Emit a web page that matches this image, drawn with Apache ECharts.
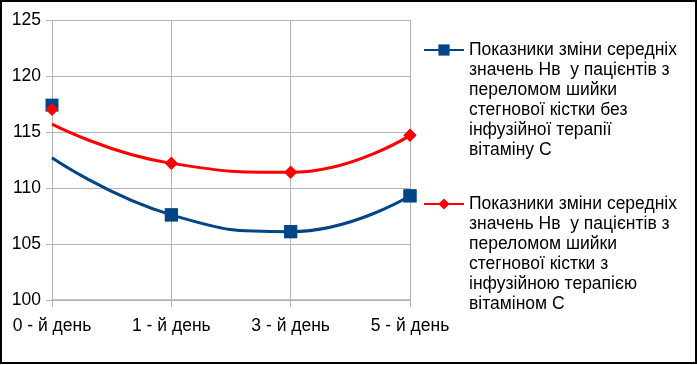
<!DOCTYPE html>
<html>
<head>
<meta charset="utf-8">
<script src="https://cdn.jsdelivr.net/npm/echarts@6/dist/echarts.min.js"></script>
<style>
html,body{margin:0;padding:0;background:#fff;}
#c{width:697px;height:364px;box-sizing:border-box;border:2px solid #000;}
</style>
</head>
<body>
<div id="c"></div>
<script>
// Data
const categories = ['0 - й день', '1 - й день', '3 - й день', '5 - й день'];
const seriesNames = [
  'Показники зміни середніх значень Нв  у пацієнтів з переломом шийки стегнової кістки без інфузійної терапії вітаміну С',
  'Показники зміни середніх значень Нв  у пацієнтів з переломом шийки стегнової кістки з інфузійною терапією вітаміном С'
];
const legendLines1 = ['Показники зміни середніх', 'значень Нв  у пацієнтів з', 'переломом шийки', 'стегнової кістки без', 'інфузійної терапії', 'вітаміну С'];
const legendLines2 = ['Показники зміни середніх', 'значень Нв  у пацієнтів з', 'переломом шийки', 'стегнової кістки з', 'інфузійною терапією', 'вітаміном С'];
// marker values
const withoutVitC = [117.4, 107.6, 106.1, 109.3];
const withVitC = [117.0, 112.2, 111.4, 114.7];
// value where the drawn (spline) curve starts at day 0
const curveStart = [112.7, 115.7];
const yTicks = [100, 105, 110, 115, 120, 125];

const colors = ['#004586', '#ff0000'];
const font = '"Liberation Sans", Arial, sans-serif';

function curveData(vals, start) {
  return vals.map((v, i) => i === 0 ? { value: start, symbol: 'none' } : v);
}

const chart = echarts.init(document.getElementById('c'));
const lh = 20;
const fs = 17.5;
function legendCfg(name, lines, iconY) {
  // blank lines in front so that the icon (vertically centred) sits on the first text line
  const blanks = new Array(lines.length - 1).fill(' ');
  const total = blanks.length + lines.length;
  return {
    data: [name],
    orient: 'vertical',
    left: 421,
    top: iconY - (total * lh) / 2,
    padding: 0,
    itemWidth: 40,
    itemHeight: 14,
    selectedMode: false,
    formatter: () => blanks.concat(lines).join('\n'),
    textStyle: { fontFamily: font, fontSize: fs, color: '#000', lineHeight: lh }
  };
}
chart.setOption({
  animation: false,
  color: colors,
  grid: { left: 50, right: 285, top: 18, bottom: 62, containLabel: false },
  legend: [
    legendCfg(seriesNames[0], legendLines1, 48),
    legendCfg(seriesNames[1], legendLines2, 202)
  ],
  xAxis: {
    type: 'category',
    data: categories,
    boundaryGap: false,
    axisLine: { show: true, lineStyle: { color: '#b3b3b3', width: 1.5 } },
    axisTick: { show: true, length: 7, lineStyle: { color: '#b3b3b3' } },
    axisLabel: { margin: 17, fontFamily: font, fontSize: fs, color: '#000' },
    splitLine: { show: true, lineStyle: { color: '#b3b3b3', width: 1 } }
  },
  yAxis: {
    type: 'value',
    min: yTicks[0],
    max: yTicks[yTicks.length - 1],
    interval: 5,
    axisLine: { show: false },
    axisTick: { show: true, length: 6, lineStyle: { color: '#b3b3b3' } },
    axisLabel: { margin: 11, fontFamily: font, fontSize: fs, color: '#000' },
    splitLine: { show: true, lineStyle: { color: '#b3b3b3', width: 1 } }
  },
  series: [
    {
      name: seriesNames[0], type: 'line', smooth: 0.5,
      data: curveData(withoutVitC, curveStart[0]),
      symbol: 'rect', symbolSize: 13,
      lineStyle: { width: 3, color: colors[0] },
      itemStyle: { color: colors[0], opacity: 1 }, z: 2
    },
    {
      name: seriesNames[1], type: 'line', smooth: 0.5,
      data: curveData(withVitC, curveStart[1]),
      symbol: 'diamond', symbolSize: 13,
      lineStyle: { width: 3, color: colors[1] },
      itemStyle: { color: colors[1], opacity: 1 }, z: 3
    },
    {
      name: 'm1', type: 'scatter', data: withoutVitC,
      symbol: 'rect', symbolSize: 13, itemStyle: { color: colors[0], opacity: 1 }, z: 2
    },
    {
      name: 'm2', type: 'scatter', data: withVitC,
      symbol: 'diamond', symbolSize: 13, itemStyle: { color: colors[1], opacity: 1 }, z: 3
    }
  ]
});
</script>
</body>
</html>
